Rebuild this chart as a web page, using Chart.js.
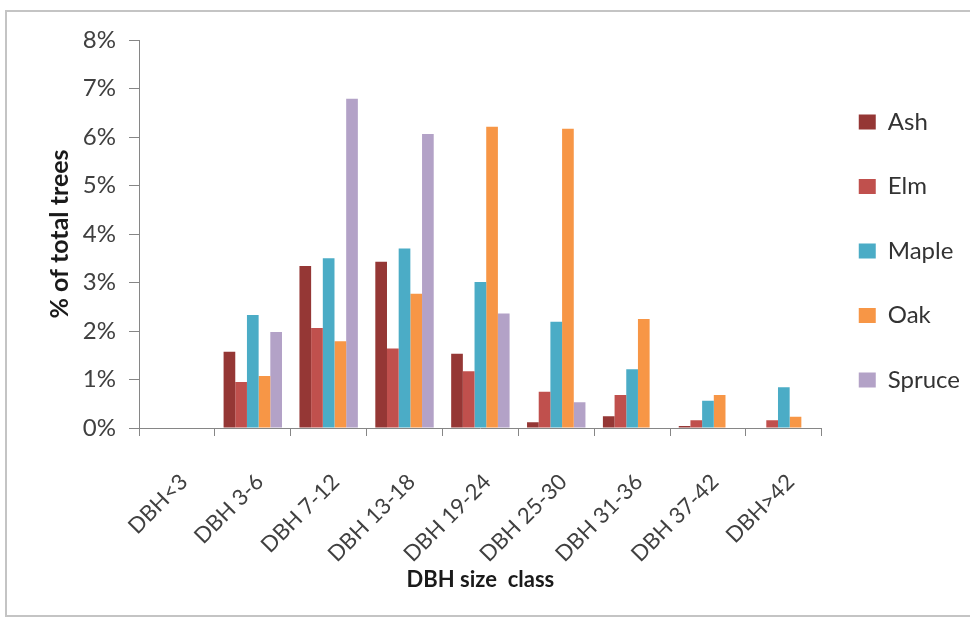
<!DOCTYPE html>
<html>
<head>
<meta charset="utf-8">
<script src="https://cdn.jsdelivr.net/npm/chart.js@4/dist/chart.umd.min.js"></script>
<style>
  html, body { margin: 0; padding: 0; background: #ffffff; overflow: hidden; }
  #wrap { position: relative; width: 970px; height: 619px; }
  #frame { position: absolute; left: 5px; top: 10px; width: 980px; height: 603px; border: 2px solid #c4c4c4; pointer-events: none; }
  canvas { position: absolute; left: 0; top: 0; }
</style>
</head>
<body>
<div id="wrap">
  <canvas id="c" width="970" height="619"></canvas>
  <div id="frame"></div>
</div>
<script>
const categories = ['DBH<3', 'DBH 3-6', 'DBH 7-12', 'DBH 13-18', 'DBH 19-24', 'DBH 25-30', 'DBH 31-36', 'DBH 37-42', 'DBH>42'];
const ash    = [0, 1.57, 3.34, 3.43, 1.53, 0.12, 0.24, 0.04, 0];
const elm    = [0, 0.95, 2.06, 1.64, 1.17, 0.75, 0.68, 0.16, 0.16];
const maple  = [0, 2.33, 3.50, 3.70, 3.01, 2.19, 1.21, 0.56, 0.84];
const oak    = [0, 1.07, 1.79, 2.77, 6.21, 6.17, 2.25, 0.68, 0.23];
const spruce = [0, 1.98, 6.79, 6.06, 2.36, 0.53, 0, 0, 0];
const yTickLabels = ['0%', '1%', '2%', '3%', '4%', '5%', '6%', '7%', '8%'];
const seriesNames = ['Ash', 'Elm', 'Maple', 'Oak', 'Spruce'];
const seriesColors = ['#953735', '#C0504D', '#4BACC6', '#F79646', '#B3A2C7'];
const seriesData = [ash, elm, maple, oak, spruce];

const FONT = 'Lato, "Open Sans", sans-serif';
const AXIS = '#868686';

new Chart(document.getElementById('c'), {
  type: 'bar',
  data: {
    labels: categories,
    datasets: seriesNames.map((n, i) => ({
      label: n,
      data: seriesData[i],
      backgroundColor: seriesColors[i],
      borderWidth: 0,
      categoryPercentage: 0.77,
      barPercentage: 1.0
    }))
  },
  options: {
    responsive: false,
    animation: false,
    layout: { padding: { top: 40, left: 0, right: 0, bottom: 0 } },
    plugins: {
      tooltip: { enabled: false },
      legend: {
        position: 'right',
        align: 'start',
        maxWidth: 151,
        title: { display: true, text: ' ', font: { size: 24, lineHeight: '33px' }, padding: 0 },
        labels: {
          boxWidth: 17,
          boxHeight: 15,
          padding: 37,
          color: '#333333',
          font: { family: FONT, size: 24, lineHeight: '27.5px' },
          generateLabels(chart) {
            const items = Chart.defaults.plugins.legend.labels.generateLabels(chart);
            items.forEach(it => { it.text = [it.text]; it.lineWidth = 0; });
            return items;
          }
        }
      }
    },
    scales: {
      x: {
        afterFit(scale) { scale.height = 191; },
        grid: { display: true, drawOnChartArea: false, drawTicks: true, tickLength: 8, color: AXIS, offset: true },
        border: { display: true, color: AXIS, width: 1 },
        ticks: {
          autoSkip: false,
          maxRotation: 45,
          minRotation: 45,
          padding: 33,
          labelOffset: 7,
          color: '#404040',
          font: { family: FONT, size: 22 }
        },
        title: {
          display: true,
          text: 'DBH size  class',
          color: '#1a1a1a',
          font: { family: FONT, size: 22, weight: 'bold' },
          padding: { top: 0, bottom: 26 }
        }
      },
      y: {
        min: 0,
        max: 8,
        afterFit(scale) { scale.width = 139; },
        grid: { display: true, drawOnChartArea: false, drawTicks: true, tickLength: 10, color: AXIS },
        border: { display: true, color: AXIS, width: 1 },
        ticks: {
          stepSize: 1,
          padding: 13,
          color: '#404040',
          font: { family: FONT, size: 24 },
          callback: (v, i) => yTickLabels[Math.round(v)]
        },
        title: {
          display: true,
          text: '% of total trees',
          color: '#1a1a1a',
          font: { family: FONT, size: 25, weight: 'bold' },
          padding: { top: 45, bottom: 0 }
        }
      }
    }
  }
});
</script>
</body>
</html>
